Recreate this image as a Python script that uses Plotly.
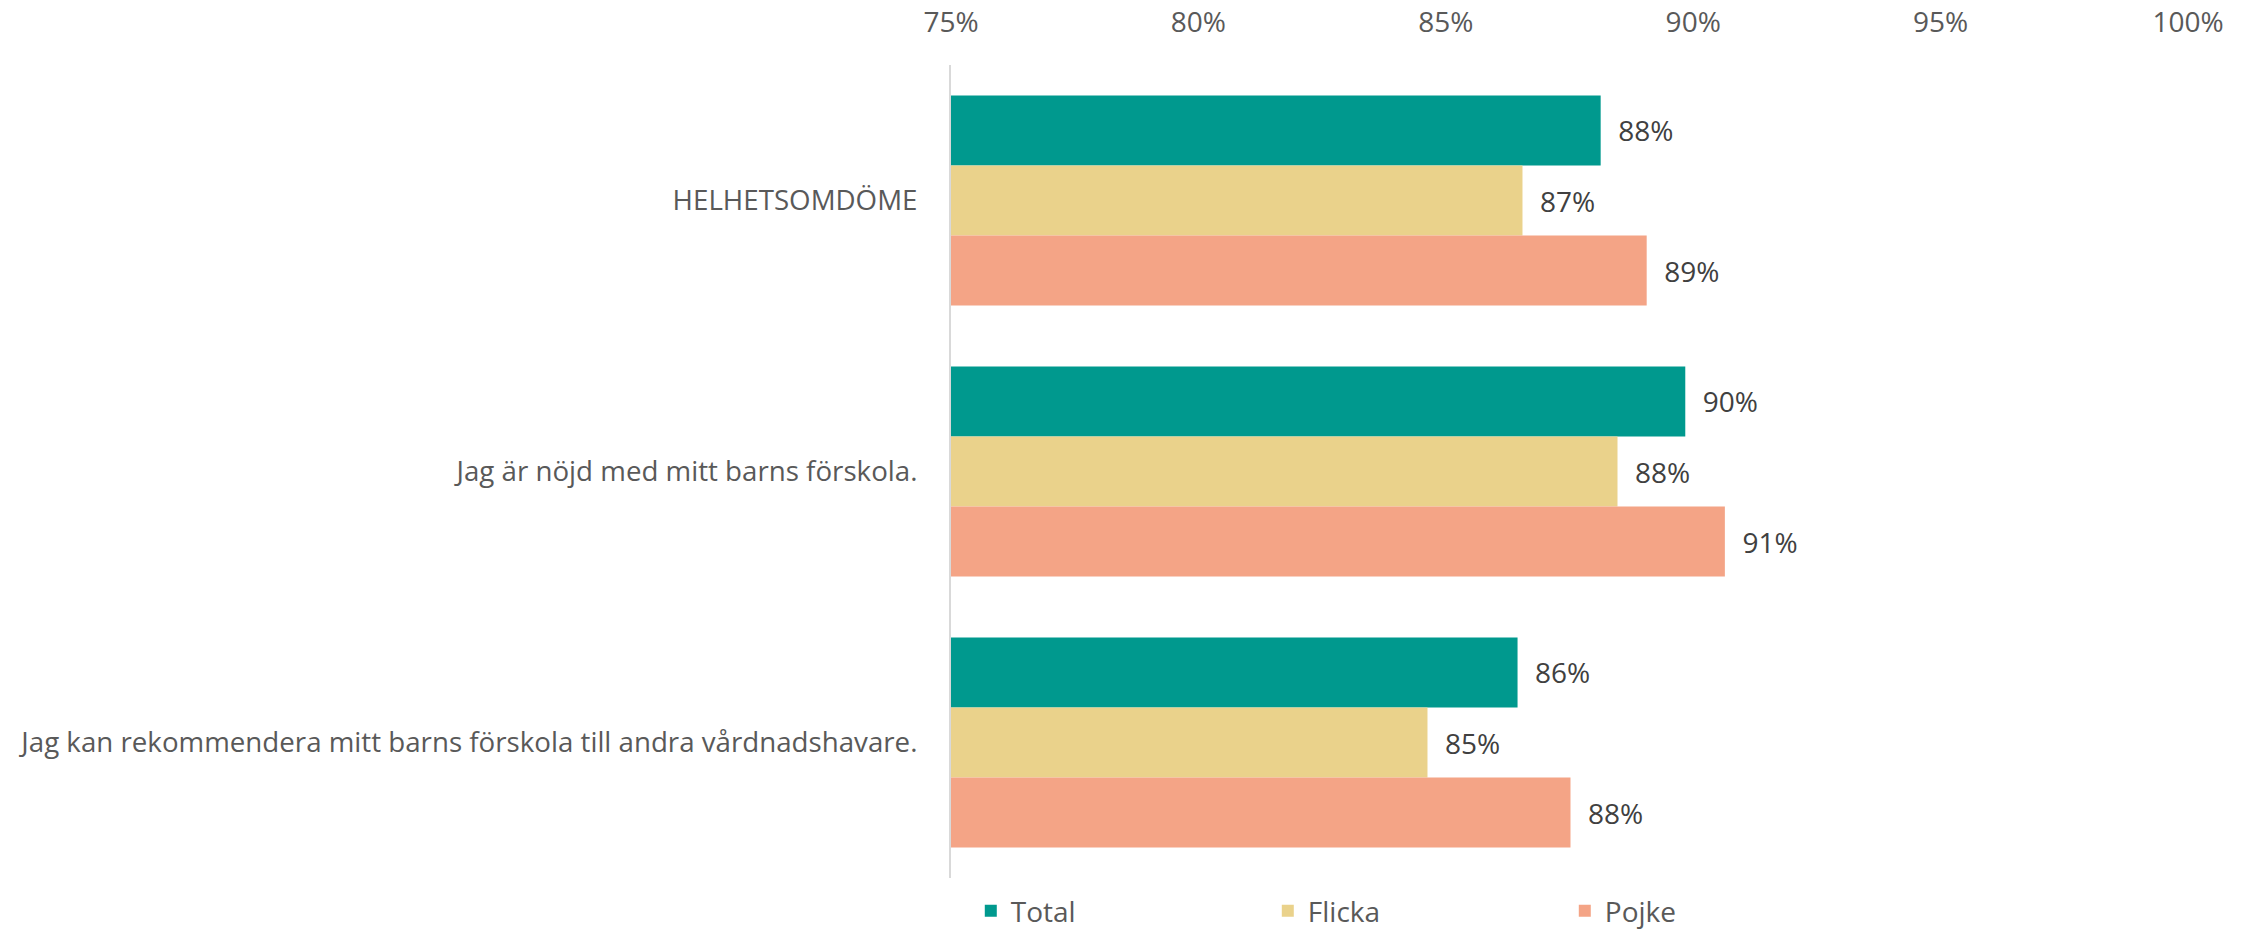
import plotly.graph_objects as go

categories = [
    "HELHETSOMDÖME",
    "Jag är nöjd med mitt barns förskola.",
    "Jag kan rekommendera mitt barns förskola till andra vårdnadshavare.",
]
series_names = ["Total", "Flicka", "Pojke"]
total = [0.8813, 0.8984, 0.8645]
flicka = [0.8655, 0.8847, 0.8463]
pojke = [0.8906, 0.9064, 0.8752]
tick_vals = [0.75, 0.80, 0.85, 0.90, 0.95, 1.00]
tick_text = ["75%", "80%", "85%", "90%", "95%", "100%"]

colors = ["#00998E", "#EAD28B", "#F4A486"]
FONT = "Open Sans"
TXT = "#595959"
FS = 28

fig = go.Figure()
for name, vals, col in zip(series_names, [total, flicka, pojke], colors):
    fig.add_trace(go.Bar(
        y=categories, x=vals, name=name, orientation="h",
        marker=dict(color=col, line=dict(width=0)),
        texttemplate="\u00a0\u00a0%{x:.0%}", textposition="outside",
        textfont=dict(family=FONT, size=FS, color="#404040"),
        cliponaxis=False,
    ))

fig.update_layout(
    width=2252, height=932, autosize=False,
    margin=dict(l=951, r=64, t=65, b=54),
    paper_bgcolor="white", plot_bgcolor="white",
    barmode="group", bargap=0.225, bargroupgap=0,
    font=dict(family=FONT, size=FS, color=TXT),
    showlegend=True,
    legend=dict(orientation="h", x=0.016, xanchor="left",
                yref="container", y=1 - 911 / 932, yanchor="middle",
                font=dict(family=FONT, size=FS, color=TXT),
                entrywidth=252, entrywidthmode="pixels", itemwidth=30,
                traceorder="normal"),
    xaxis=dict(side="top", range=[0.75, 1.0], tickvals=tick_vals, ticktext=tick_text,
               showgrid=False, zeroline=False, showline=False, ticks="",
               ticklabelstandoff=26, automargin=False,
               tickfont=dict(family=FONT, size=FS, color=TXT)),
    yaxis=dict(autorange="reversed", showgrid=False, zeroline=False,
               showline=True, linecolor="#D9D9D9", linewidth=2, ticks="",
               ticklabelstandoff=26, automargin=False,
               tickfont=dict(family=FONT, size=27.7, color=TXT)),
)

fig.write_html("out.html", config={"displayModeBar": False},
               post_script="document.body.style.margin='0';document.body.style.overflow='hidden';")
